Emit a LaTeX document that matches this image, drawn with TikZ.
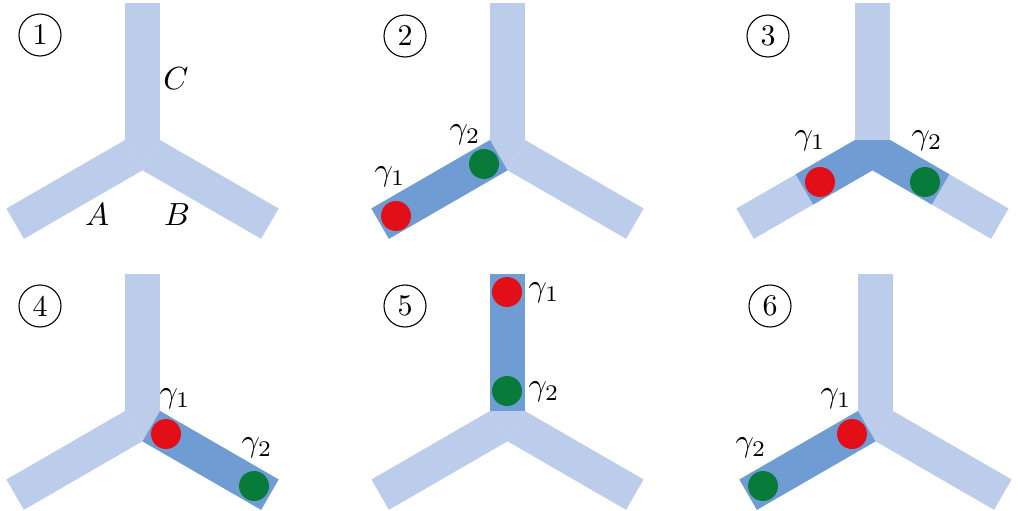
\documentclass[tikz,border=0pt]{standalone}
\usetikzlibrary{calc}
\definecolor{lightarm}{RGB}{188,205,235}
\definecolor{darkarm}{RGB}{111,156,210}
\definecolor{dotred}{RGB}{227,15,24}
\definecolor{dotgreen}{RGB}{8,122,58}
\newcommand\biglbl[1]{\scalebox{3.2}{$#1$}}
\newcommand\bignum[1]{\scalebox{3.0}{#1}}
\begin{document}
\begin{tikzpicture}[x=1pt,y=-1pt,
  light/.style={fill=lightarm},
  dark/.style={fill=darkarm},
  reddot/.style={fill=dotred},
  greendot/.style={fill=dotgreen},
  lbl/.style={inner sep=0pt},
  numcirc/.style={draw, circle, line width=1.1pt, minimum size=42pt, inner sep=0pt}]
\useasboundingbox (0,0) rectangle (1018,511);
\newcommand\Yjunc[3]{%
  \coordinate (#1tl) at (#2,#3);
  \coordinate (#1tr) at (#2+35,#3);
  \coordinate (#1bp) at (#2+17.5,#3+30.31);
  \coordinate (#1c1) at (#2,#3-137);
  \coordinate (#1c2) at (#2+35,#3-137);
  \coordinate (#1a1) at (#2-118.6,#3+68.5);
  \coordinate (#1a2) at (#2+17.5-118.6,#3+30.31+68.5);
  \coordinate (#1b1) at (#2+35+118.6,#3+68.5);
  \coordinate (#1b2) at (#2+17.5+118.6,#3+30.31+68.5);
  \fill[light] (#1tl) -- (#1tr) -- (#1bp) -- cycle;
  \fill[light] (#1tl) -- (#1c1) -- (#1c2) -- (#1tr) -- cycle;
  \fill[light] (#1tl) -- (#1a1) -- (#1a2) -- (#1bp) -- cycle;
  \fill[light] (#1tr) -- (#1b1) -- (#1b2) -- (#1bp) -- cycle;
}
% panel 1
\Yjunc{p}{125}{140}
\node[numcirc] (n1) at (40,35) {\bignum{1}};
\node[lbl] (lc) at (176,79) {\biglbl{C}};
\node[lbl] (la) at (97,215) {\biglbl{A}};
\node[lbl] (lb) at (177,215) {\biglbl{B}};
% panel 2
\Yjunc{q}{490}{140}
\fill[dark] (qtl) -- (qa1) -- (qa2) -- (qbp) -- cycle;
\node[numcirc] (n2) at (405,36) {\bignum{2}};
\fill[reddot] (396,216) circle (15);
\fill[greendot] (484,164) circle (15);
\node[lbl] (q1) at (390,177) {\biglbl{\gamma_1}};
\node[lbl] (q2) at (465,135) {\biglbl{\gamma_2}};
% panel 3
\Yjunc{r}{855}{140}
\fill[dark] ($(rtl)!0.5!(ra1)$) -- (rtl) -- (rtr) -- ($(rtr)!0.5!(rb1)$) -- ($(rbp)!0.5!(rb2)$) -- (rbp) -- ($(rbp)!0.5!(ra2)$) -- cycle;
\node[numcirc] (n3) at (768,36) {\bignum{3}};
\fill[reddot] (820,182) circle (15);
\fill[greendot] (925,182) circle (15);
\node[lbl] (r1) at (810,141) {\biglbl{\gamma_1}};
\node[lbl] (r2) at (927,141) {\biglbl{\gamma_2}};
% panel 4
\Yjunc{s}{125}{411}
\fill[dark] (str) -- (sb1) -- (sb2) -- (sbp) -- cycle;
\node[numcirc] (n4) at (40,306) {\bignum{4}};
\fill[reddot] (166,434) circle (15);
\fill[greendot] (254,486) circle (15);
\node[lbl] (s1) at (175,399) {\biglbl{\gamma_1}};
\node[lbl] (s2) at (257,448) {\biglbl{\gamma_2}};
% panel 5
\Yjunc{t}{490}{411}
\fill[dark] (ttl) -- (tc1) -- (tc2) -- (ttr) -- cycle;
\node[numcirc] (n5) at (405,306) {\bignum{5}};
\fill[reddot] (507,292) circle (15);
\fill[greendot] (507,391) circle (15);
\node[lbl] (t1) at (544,293) {\biglbl{\gamma_1}};
\node[lbl] (t2) at (544,392) {\biglbl{\gamma_2}};
% panel 6
\Yjunc{u}{858}{411}
\fill[dark] (utl) -- (ua1) -- (ua2) -- (ubp) -- cycle;
\node[numcirc] (n6) at (770,306) {\bignum{6}};
\fill[reddot] (852,434) circle (15);
\fill[greendot] (763,486) circle (15);
\node[lbl] (u1) at (836,399) {\biglbl{\gamma_1}};
\node[lbl] (u2) at (751,448) {\biglbl{\gamma_2}};
\end{tikzpicture}
\end{document}
